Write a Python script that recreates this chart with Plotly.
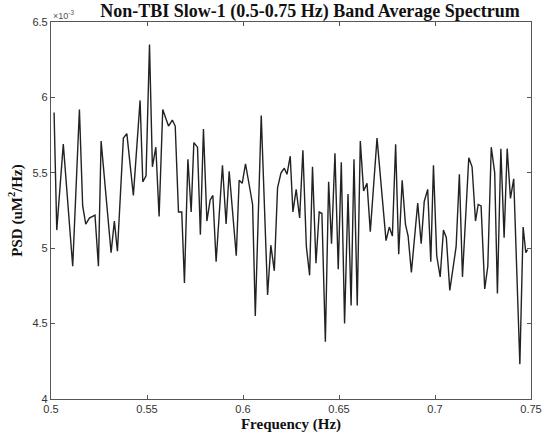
import plotly.graph_objects as go

# Frequency (Hz) of the spectrum vertices
freq_hz = [
    0.5016, 0.5030, 0.5064, 0.5113, 0.5148, 0.5165, 0.5181, 0.5200, 0.5229, 0.5247,
    0.5261, 0.5313, 0.5330, 0.5346, 0.5377, 0.5395, 0.5429, 0.5464, 0.5478, 0.5495,
    0.5513, 0.5528, 0.5546, 0.5563, 0.5582, 0.5612, 0.5632, 0.5647, 0.5664, 0.5681,
    0.5695, 0.5713, 0.5730, 0.5744, 0.5763, 0.5778, 0.5794, 0.5812, 0.5829, 0.5843,
    0.5860, 0.5893, 0.5912, 0.5928, 0.5965, 0.5980, 0.5996, 0.6013, 0.6050, 0.6064,
    0.6095, 0.6128, 0.6145, 0.6163, 0.6180, 0.6198, 0.6215, 0.6229, 0.6246, 0.6260,
    0.6277, 0.6295, 0.6312, 0.6330, 0.6347, 0.6362, 0.6380, 0.6397, 0.6411, 0.6429,
    0.6446, 0.6461, 0.6479, 0.6496, 0.6512, 0.6529, 0.6547, 0.6563, 0.6578, 0.6595,
    0.6611, 0.6628, 0.6646, 0.6663, 0.6698, 0.6745, 0.6762, 0.6778, 0.6795, 0.6811,
    0.6829, 0.6846, 0.6860, 0.6877, 0.6910, 0.6928, 0.6944, 0.6962, 0.6978, 0.6992,
    0.7009, 0.7027, 0.7044, 0.7059, 0.7077, 0.7110, 0.7127, 0.7143, 0.7176, 0.7193,
    0.7211, 0.7225, 0.7240, 0.7259, 0.7275, 0.7293, 0.7311, 0.7325, 0.7343, 0.7360,
    0.7376, 0.7393, 0.7410, 0.7442, 0.7459, 0.7473, 0.7482,
]

# PSD values in units of 1e-3 uM^2/Hz
psd_e3 = [
    5.90, 5.12, 5.69, 4.88, 5.92, 5.28, 5.16, 5.20, 5.22, 4.88,
    5.71, 4.97, 5.18, 4.98, 5.73, 5.76, 5.35, 5.98, 5.44, 5.48,
    6.35, 5.54, 5.67, 5.21, 5.92, 5.81, 5.85, 5.81, 5.24, 5.24,
    4.77, 5.59, 5.24, 5.70, 5.67, 5.09, 5.79, 5.18, 5.32, 5.35,
    4.91, 5.55, 5.16, 5.51, 4.95, 5.45, 5.43, 5.56, 5.29, 4.55,
    5.88, 4.69, 5.02, 4.85, 5.40, 5.50, 5.53, 5.49, 5.61, 5.24,
    5.39, 5.20, 5.65, 5.01, 4.82, 5.54, 4.90, 5.24, 5.23, 4.38,
    5.44, 5.03, 5.63, 4.86, 5.57, 4.50, 5.36, 4.62, 5.59, 4.62,
    5.71, 5.38, 5.43, 5.11, 5.73, 5.05, 5.14, 5.08, 5.69, 4.96,
    5.45, 5.16, 5.08, 4.84, 5.30, 5.03, 5.31, 5.39, 4.91, 5.55,
    4.95, 4.81, 5.12, 5.07, 4.72, 5.01, 5.49, 4.81, 5.60, 5.54,
    5.18, 5.29, 5.28, 4.73, 4.88, 5.67, 5.50, 4.70, 5.66, 5.07,
    5.66, 5.33, 5.46, 4.23, 5.14, 4.97, 4.99,
]

x_ticks = [0.5, 0.55, 0.6, 0.65, 0.7, 0.75]
x_tick_labels = ["0.5", "0.55", "0.6", "0.65", "0.7", "0.75"]
y_ticks = [4, 4.5, 5, 5.5, 6, 6.5]
y_tick_labels = ["4", "4.5", "5", "5.5", "6", "6.5"]

serif = "Liberation Serif"
sans = "Liberation Sans"

fig = go.Figure()
fig.add_trace(go.Scatter(
    x=freq_hz, y=psd_e3, mode="lines",
    line=dict(color="#222222", width=1.4),
    showlegend=False, hoverinfo="skip",
))

axis_common = dict(
    showline=True, linecolor="#555555", linewidth=1.2, mirror="allticks",
    ticks="inside", ticklen=4, tickcolor="#555555", tickwidth=1.2,
    showgrid=False, zeroline=False, automargin=False,
    tickfont=dict(family=sans, size=11, color="#333333"),
)

fig.update_xaxes(
    range=[0.5, 0.75], tickvals=x_ticks, ticktext=x_tick_labels,
    title=dict(text="<b>Frequency (Hz)</b>", font=dict(family=serif, size=15, color="#111111"), standoff=4),
    **axis_common,
)
fig.update_yaxes(
    range=[4, 6.5], tickvals=y_ticks, ticktext=y_tick_labels,
    title=dict(text="<b>PSD (uM<sup>2</sup>/Hz)</b>", font=dict(family=serif, size=15, color="#111111"), standoff=6),
    **axis_common,
)

fig.add_annotation(
    text="×10<sup>-3</sup>", xref="paper", yref="paper", x=0.0, y=1.0,
    xanchor="left", yanchor="bottom", showarrow=False, yshift=-1,
    font=dict(family=sans, size=9, color="#555555"),
)

fig.update_layout(
    width=542, height=443,
    margin=dict(l=51, r=11, t=22, b=44),
    paper_bgcolor="white", plot_bgcolor="white",
    title=dict(
        text="<b>Non-TBI Slow-1 (0.5-0.75 Hz) Band Average Spectrum</b>",
        x=0.572, xanchor="center", y=0.99, yanchor="top",
        font=dict(family=serif, size=18, color="#111111"),
    ),
)

fig.write_html("out.html")
